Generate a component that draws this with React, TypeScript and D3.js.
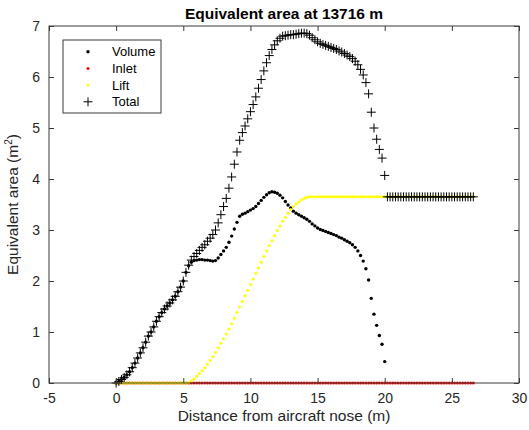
import React, { useEffect, useRef } from 'react';
import * as d3 from 'd3';

// sample spacing along the fuselage (m), first sample at the nose
const X_STEP = 0.2;

// equivalent area from volume, read at 0.2 m steps from 0 to 20 m
const volume = [
  0, 0.03, 0.07, 0.11, 0.16, 0.22, 0.3, 0.39, 0.49, 0.59,
  0.69, 0.8, 0.92, 1.0, 1.1, 1.21, 1.3, 1.38, 1.45, 1.51,
  1.57, 1.63, 1.7, 1.79, 1.88, 2.0, 2.17, 2.3, 2.37, 2.4,
  2.41, 2.42, 2.42, 2.41, 2.41, 2.4, 2.39, 2.4, 2.45, 2.52,
  2.59, 2.66, 2.76, 2.88, 3.02, 3.15, 3.27, 3.31, 3.33, 3.36,
  3.39, 3.42, 3.46, 3.52, 3.58, 3.64, 3.69, 3.73, 3.75, 3.74,
  3.72, 3.68, 3.63, 3.56, 3.49, 3.43, 3.37, 3.33, 3.3, 3.27,
  3.24, 3.21, 3.17, 3.12, 3.08, 3.04, 3.01, 2.99, 2.97, 2.95,
  2.93, 2.91, 2.89, 2.86, 2.84, 2.81, 2.78, 2.75, 2.71, 2.66,
  2.59, 2.5, 2.39, 2.24, 2.02, 1.66, 1.35, 1.13, 0.93, 0.76,
  0.42,
];

// inlet contribution, 0 to 26.6 m
const inlet = [
  0, 0, 0, 0, 0, 0, 0, 0, 0, 0,
  0, 0, 0, 0, 0, 0, 0, 0, 0, 0,
  0, 0, 0, 0, 0, 0, 0, 0, 0, 0,
  0, 0, 0, 0, 0, 0, 0, 0, 0, 0,
  0, 0, 0, 0, 0, 0, 0, 0, 0, 0,
  0, 0, 0, 0, 0, 0, 0, 0, 0, 0,
  0, 0, 0, 0, 0, 0, 0, 0, 0, 0,
  0, 0, 0, 0, 0, 0, 0, 0, 0, 0,
  0, 0, 0, 0, 0, 0, 0, 0, 0, 0,
  0, 0, 0, 0, 0, 0, 0, 0, 0, 0,
  0, 0, 0, 0, 0, 0, 0, 0, 0, 0,
  0, 0, 0, 0, 0, 0, 0, 0, 0, 0,
  0, 0, 0, 0, 0, 0, 0, 0, 0, 0,
  0, 0, 0, 0,
];

// lift contribution, 0 to 26.6 m
const lift = [
  0, 0, 0, 0, 0, 0, 0, 0, 0, 0,
  0, 0, 0, 0, 0, 0, 0, 0, 0, 0,
  0, 0, 0, 0, 0, 0, 0,
  0.01, 0.04, 0.08, 0.13, 0.18, 0.24, 0.3, 0.37, 0.44, 0.52,
  0.6, 0.69, 0.78, 0.87, 0.96, 1.06, 1.16, 1.27, 1.38, 1.49,
  1.6, 1.71, 1.82, 1.93, 2.04, 2.15, 2.26, 2.37, 2.48, 2.59,
  2.69, 2.79, 2.89, 2.99, 3.08, 3.17, 3.25, 3.33, 3.4, 3.46,
  3.51, 3.55, 3.59, 3.62, 3.64, 3.65,
  3.65, 3.65, 3.65, 3.65, 3.65, 3.65, 3.65, 3.65, 3.65, 3.65,
  3.65, 3.65, 3.65, 3.65, 3.65, 3.65, 3.65, 3.65, 3.65, 3.65,
  3.65, 3.65, 3.65, 3.65, 3.65, 3.65, 3.65, 3.65, 3.65, 3.65,
  3.65, 3.65, 3.65, 3.65, 3.65, 3.65, 3.65, 3.65, 3.65, 3.65,
  3.65, 3.65, 3.65, 3.65, 3.65, 3.65, 3.65, 3.65, 3.65, 3.65,
  3.65, 3.65, 3.65, 3.65, 3.65, 3.65, 3.65, 3.65, 3.65, 3.65,
  3.65,
];

const xTicks = [-5, 0, 5, 10, 15, 20, 25, 30];
const yTicks = [0, 1, 2, 3, 4, 5, 6, 7];
const legendItems = ['Volume', 'Inlet', 'Lift', 'Total'];

const App = () => {
  const ref = useRef<SVGSVGElement>(null);

  useEffect(() => {
    const svg = d3.select(ref.current);
    svg.selectAll('*').remove();

    const W = 529, H = 430;
    const margin = { top: 26, right: 10, bottom: 47, left: 49 };
    const width = W - margin.left - margin.right;
    const height = H - margin.top - margin.bottom;
    const font = '"Liberation Sans", Arial, sans-serif';
    const axisColor = '#3a3a3a';
    const plain = (d: d3.NumberValue) => String(d);

    const x = d3.scaleLinear().domain([-5, 30]).range([0, width]);
    const y = d3.scaleLinear().domain([0, 7]).range([height, 0]);

    svg.append('rect').attr('width', W).attr('height', H).attr('fill', 'white');

    const g = svg.append('g').attr('transform', `translate(${margin.left},${margin.top})`);

    // total = volume + inlet + lift
    const total = lift.map((l, i) => (volume[i] ?? 0) + inlet[i] + l);
    const pt = (v: number, i: number) => ({ x: i * X_STEP, y: v });

    const dots = (vals: number[], color: string, r: number) => {
      g.append('g').selectAll('circle')
        .data(vals.map(pt))
        .join('circle')
        .attr('cx', d => x(d.x))
        .attr('cy', d => y(d.y))
        .attr('r', r)
        .attr('fill', color);
    };

    dots(volume, '#000', 1.7);
    dots(inlet, '#ff0000', 1.5);
    dots(lift, '#ffff00', 1.5);

    const plus = 'M-4.5,0H4.5M0,-4.5V4.5';
    g.append('g').selectAll('path')
      .data(total.map(pt))
      .join('path')
      .attr('transform', d => `translate(${x(d.x)},${y(d.y)})`)
      .attr('d', plus)
      .attr('stroke', '#000')
      .attr('stroke-width', 1)
      .attr('fill', 'none');

    // axes, ticks pointing inward on all four sides
    const styleAxis = (sel: d3.Selection<SVGGElement, unknown, null, undefined>) => {
      sel.select('.domain').remove();
      sel.selectAll('.tick line').attr('stroke', axisColor);
      sel.selectAll('.tick text')
        .attr('fill', '#262626')
        .style('font-family', font)
        .style('font-size', '14px');
    };

    g.append('g')
      .attr('transform', `translate(0,${height})`)
      .call(d3.axisBottom(x).tickValues(xTicks).tickSize(-5).tickPadding(10).tickFormat(plain))
      .call(styleAxis);
    g.append('g')
      .call(d3.axisTop(x).tickValues(xTicks).tickSize(-5).tickFormat(() => ''))
      .call(styleAxis);
    g.append('g')
      .call(d3.axisLeft(y).tickValues(yTicks).tickSize(-5).tickPadding(9).tickFormat(plain))
      .call(styleAxis);
    g.append('g')
      .attr('transform', `translate(${width},0)`)
      .call(d3.axisRight(y).tickValues(yTicks).tickSize(-5).tickFormat(() => ''))
      .call(styleAxis);

    g.append('rect')
      .attr('width', width)
      .attr('height', height)
      .attr('fill', 'none')
      .attr('stroke', axisColor)
      .attr('stroke-width', 1);

    // titles
    svg.append('text')
      .attr('x', margin.left + width / 2)
      .attr('y', 19)
      .attr('text-anchor', 'middle')
      .style('font-family', font)
      .style('font-size', '15.5px')
      .style('font-weight', 'bold')
      .attr('fill', '#000')
      .text('Equivalent area at 13716 m');

    svg.append('text')
      .attr('x', margin.left + width / 2)
      .attr('y', 421)
      .attr('text-anchor', 'middle')
      .style('font-family', font)
      .style('font-size', '15.5px')
      .attr('fill', '#262626')
      .text('Distance from aircraft nose (m)');

    const yl = svg.append('text')
      .attr('transform', `translate(18,${margin.top + height / 2}) rotate(-90)`)
      .attr('text-anchor', 'middle')
      .style('font-family', font)
      .style('font-size', '15.5px')
      .attr('fill', '#262626');
    yl.append('tspan').text('Equivalent area (m');
    yl.append('tspan').attr('dy', -6).style('font-size', '10px').text('2');
    yl.append('tspan').attr('dy', 6).text(')');

    // legend
    const leg = svg.append('g').attr('transform', 'translate(63,40)');
    leg.append('rect')
      .attr('width', 98)
      .attr('height', 73)
      .attr('fill', 'white')
      .attr('stroke', axisColor)
      .attr('stroke-width', 1);
    const rows = leg.selectAll('g')
      .data(legendItems)
      .join('g')
      .attr('transform', (_, i) => `translate(0,${11.7 + i * 16.7})`);
    rows.each(function (d) {
      const row = d3.select(this);
      if (d === 'Total') {
        row.append('path').attr('d', plus).attr('transform', 'translate(25,0)')
          .attr('stroke', '#000').attr('fill', 'none');
      } else {
        const c = d === 'Volume' ? '#000' : d === 'Inlet' ? '#ff0000' : '#ffff00';
        row.append('circle').attr('cx', 25).attr('r', d === 'Volume' ? 1.7 : 1.5).attr('fill', c);
      }
      row.append('text')
        .attr('x', 49)
        .attr('dy', '0.35em')
        .style('font-family', font)
        .style('font-size', '13px')
        .attr('fill', '#000')
        .text(d);
    });
  }, []);

  return (
    <svg ref={ref} width={529} height={430}
      style={{ position: 'absolute', left: 0, top: 0, display: 'block' }} />
  );
};

export default App;
